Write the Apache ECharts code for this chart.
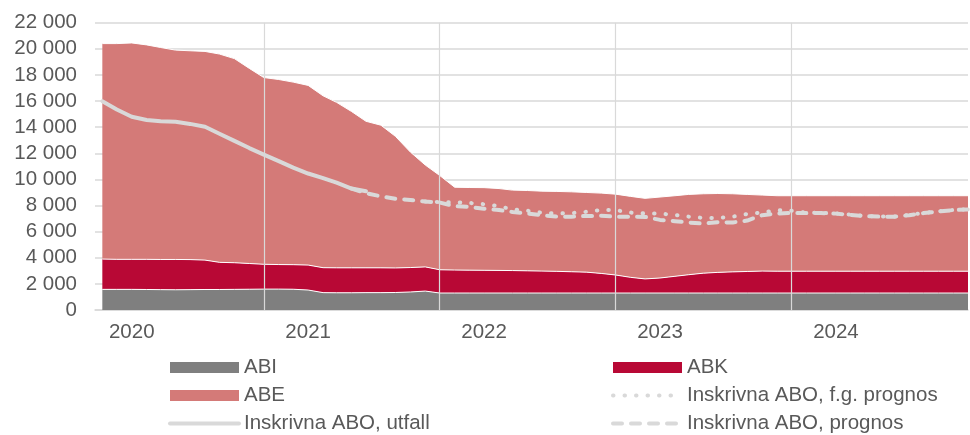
<!DOCTYPE html>
<html>
<head>
<meta charset="utf-8">
<script src="https://cdn.jsdelivr.net/npm/echarts@6/dist/echarts.min.js"></script>
<style>html,body{margin:0;padding:0;background:#fff}#c{width:970px;height:435px}</style>
</head>
<body>
<div id="c"></div>
<script>
// Monthly data, first value = November 2019, last = October 2024
const firstMonth = {year: 2019, month: 10}; // 0-based month (10 = November)
const yearLabels = ['2020', '2021', '2022', '2023', '2024'];
const boundaryMonth = 9; // vertical gridlines at 1 October each year

const abi = [1580,1580,1580,1570,1560,1550,1560,1570,1570,1580,1590,1600,1600,1590,1530,1330,1320,1320,1330,1330,
  1340,1380,1450,1300,1300,1300,1300,1300,1300,1300,1300,1300,1300,1300,1300,1300,1300,1300,1300,1300,
  1300,1300,1300,1300,1300,1300,1300,1300,1300,1300,1300,1300,1300,1300,1300,1300,1300,1300,1300,1300];
const abk = [2320,2300,2300,2310,2310,2320,2300,2250,2080,2040,1970,1900,1880,1880,1910,1910,1910,1910,1900,1900,
  1880,1870,1850,1780,1760,1750,1740,1730,1720,1700,1680,1660,1630,1600,1500,1380,1200,1080,1150,1280,
  1400,1520,1580,1620,1650,1680,1670,1670,1670,1670,1670,1670,1670,1670,1670,1670,1670,1670,1670,1670];
const abe = [16500,16520,16570,16420,16230,16030,15990,15980,15950,15630,14940,14300,14170,13980,13760,13160,12670,11970,11220,10920,
  10080,8850,7800,7220,6340,6330,6330,6270,6160,6150,6120,6120,6120,6100,6150,6190,6200,6170,6200,6170,
  6150,6080,6040,5980,5900,5820,5780,5780,5780,5780,5780,5780,5780,5780,5780,5780,5780,5780,5780,5780];

const utfallStart = 0;
const utfall = [15980,15350,14800,14550,14450,14420,14250,14030,13500,12950,12400,11900,11400,10900,10450,10100,9750,9300,9100];
const prognosStart = 17;
const prognos = [9300,8950,8700,8520,8420,8300,8230,7950,7900,7750,7650,7500,7390,7250,7150,7150,7200,7210,7150,7140,
  7130,6900,6800,6700,6620,6720,6700,6850,7260,7390,7440,7420,7420,7380,7280,7180,7150,7140,7260,7420,7550,7650,7700];
const fgStart = 22;
const fgPrognos = [8300,8270,8250,8200,8100,7950,7700,7600,7450,7390,7420,7520,7650,7650,7460,7390,7380,7280,7150,7050,
  7050,7150,7350,7460,7650,7600,7450,7430,7400,7300,7200,7170,7160,7280,7430,7560,7660,7720];

const yTicks = {min: 0, max: 22000, step: 2000};

const monthTs = (i) => Date.UTC(firstMonth.year, firstMonth.month + i, 1);
function pairs(arr, start) { return arr.map((v, i) => [monthTs(start + i), v]); }
const nMonths = abi.length;
const boundaries = yearLabels.slice(0, -1).map((y) => ({xAxis: Date.UTC(+y, boundaryMonth, 1)}));
const DAY = 24 * 3600 * 1000;
const HALF_MONTH = 15.2 * DAY;

const FONT = '"Liberation Sans", Arial, sans-serif';
const FS = 20.5;
const TXT = '#595959';
const GRID = '#d9d9d9';
const LINE = '#d9d9d9';

const areaSeries = (name, data, color, extra) => Object.assign({
  name, type: 'line', stack: 'total', data: pairs(data, 0),
  showSymbol: false, symbol: 'none',
  lineStyle: {width: 1, color: '#ffffff'},
  itemStyle: {color},
  areaStyle: {color, opacity: 1},
  emphasis: {disabled: true},
  z: 2
}, extra || {});

const legendText = {color: TXT, fontFamily: FONT, fontSize: FS, lineHeight: 20};
const lineItem = (name) => ({name, itemStyle: {opacity: 0}, lineStyle: {width: 4}});

const chart = echarts.init(document.getElementById('c'), null, {renderer: 'canvas'});
chart.setOption({
  animation: false,
  backgroundColor: '#ffffff',
  grid: {left: 95, right: 2, top: 22.7, bottom: 125, containLabel: false},
  xAxis: {
    type: 'time', min: monthTs(0) - HALF_MONTH, max: monthTs(nMonths - 1),
    minInterval: 365 * DAY, maxInterval: 366 * DAY,
    axisLine: {show: true, lineStyle: {color: GRID, width: 1.5}},
    axisTick: {show: false},
    splitLine: {show: false},
    axisLabel: {
      showMinLabel: false, showMaxLabel: false,
      formatter: (v) => {
        const y = String(new Date(v).getUTCFullYear());
        return yearLabels.indexOf(y) >= 0 ? y : '';
      },
      color: TXT, fontFamily: FONT, fontSize: FS, margin: 12
    }
  },
  yAxis: {
    type: 'value', min: yTicks.min, max: yTicks.max, interval: yTicks.step,
    axisLine: {show: false}, axisTick: {show: false},
    splitLine: {show: true, lineStyle: {color: GRID, width: 1.5}},
    axisLabel: {
      color: TXT, fontFamily: FONT, fontSize: FS, margin: 18,
      formatter: (v) => String(v).replace(/\B(?=(\d{3})+(?!\d))/g, ' ')
    }
  },
  legend: [
    {
      orient: 'vertical', left: 168, top: 357, height: 90, padding: 0, itemGap: 7, itemWidth: 69, itemHeight: 11,
      textStyle: legendText,
      data: [{name: 'ABI', icon: 'rect'}, {name: 'ABE', icon: 'rect'}, lineItem('Inskrivna ABO, utfall')]
    },
    {
      orient: 'vertical', left: 611, top: 357, height: 90, padding: 0, itemGap: 7, itemWidth: 69, itemHeight: 11,
      textStyle: legendText,
      data: [{name: 'ABK', icon: 'rect'}, lineItem('Inskrivna ABO, f.g. prognos'), lineItem('Inskrivna ABO, prognos')]
    }
  ],
  series: [
    areaSeries('ABI', abi, '#7f7f7f'),
    areaSeries('ABK', abk, '#b80835'),
    areaSeries('ABE', abe, '#d47a78', {
      markLine: {
        silent: true, symbol: 'none', label: {show: false},
        lineStyle: {color: GRID, width: 1.2, type: 'solid'},
        data: boundaries
      }
    }),
    {
      name: 'Inskrivna ABO, utfall', type: 'line', data: pairs(utfall, utfallStart),
      showSymbol: false, symbol: 'none', z: 3,
      itemStyle: {color: LINE},
      lineStyle: {color: LINE, width: 4, cap: 'round'}
    },
    {
      name: 'Inskrivna ABO, f.g. prognos', type: 'line', data: pairs(fgPrognos, fgStart),
      showSymbol: false, symbol: 'none', z: 3,
      itemStyle: {color: LINE},
      lineStyle: {color: LINE, width: 4, type: [0.5, 11], cap: 'round'}
    },
    {
      name: 'Inskrivna ABO, prognos', type: 'line', data: pairs(prognos, prognosStart),
      showSymbol: false, symbol: 'none', z: 3,
      itemStyle: {color: LINE},
      lineStyle: {color: LINE, width: 4, type: [9, 9], cap: 'round'}
    }
  ]
});
</script>
</body>
</html>
